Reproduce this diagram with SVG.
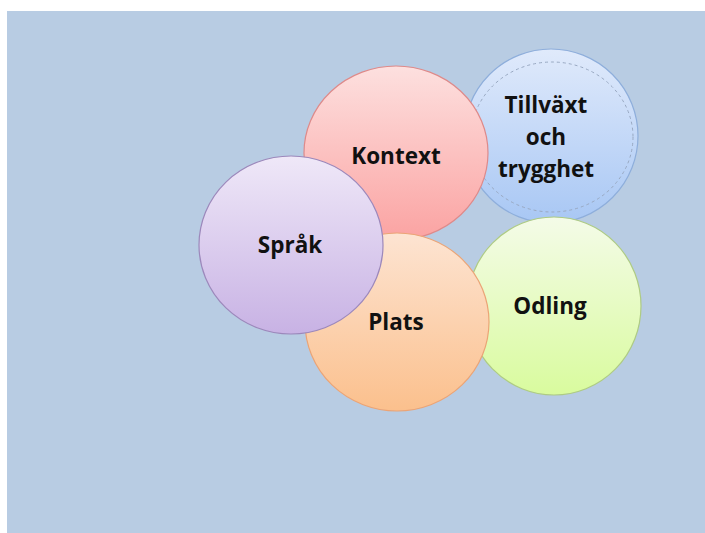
<svg xmlns="http://www.w3.org/2000/svg" width="705" height="533" viewBox="0 0 705 533">
  <style>
    .lbl { font-family: "Open Sans", "Liberation Sans", sans-serif; font-weight: bold; font-size: 22.5px; fill: #111111; text-anchor: middle; }
    .node { stroke-width: 1.2; }
  </style>
  <defs>
    <linearGradient id="gRed" x1="0" y1="0" x2="0" y2="1">
      <stop offset="0" stop-color="#fde0df"/>
      <stop offset="1" stop-color="#fba3a2"/>
    </linearGradient>
    <linearGradient id="gBlue" x1="0" y1="0" x2="0" y2="1">
      <stop offset="0" stop-color="#e0eafb"/>
      <stop offset="1" stop-color="#a8c7f4"/>
    </linearGradient>
    <linearGradient id="gPurple" x1="0" y1="0" x2="0" y2="1">
      <stop offset="0" stop-color="#efe8f8"/>
      <stop offset="1" stop-color="#c8b2e4"/>
    </linearGradient>
    <linearGradient id="gOrange" x1="0" y1="0" x2="0" y2="1">
      <stop offset="0" stop-color="#fde4d2"/>
      <stop offset="1" stop-color="#fbc08d"/>
    </linearGradient>
    <linearGradient id="gGreen" x1="0" y1="0" x2="0" y2="1">
      <stop offset="0" stop-color="#f4fbe8"/>
      <stop offset="1" stop-color="#d9fb9e"/>
    </linearGradient>
  </defs>
  <rect x="0" y="0" width="705" height="533" fill="#ffffff"/>
  <rect x="7" y="11" width="698" height="522" fill="#b8cce3"/>

  <g id="connectors"></g>

  <g id="tillvaxt">
    <ellipse class="node" cx="551" cy="136" rx="87" ry="87" fill="url(#gBlue)" stroke="#8eaedb"/>
    <ellipse cx="552" cy="137" rx="81" ry="75" fill="none" stroke="#99a9c2" stroke-width="1" stroke-dasharray="3,3"/>
    <text class="lbl" x="546" y="113">Tillväxt</text>
    <text class="lbl" x="546" y="145">och</text>
    <text class="lbl" x="546" y="177">trygghet</text>
  </g>

  <g id="odling">
    <ellipse class="node" cx="554" cy="306" rx="87" ry="89" fill="url(#gGreen)" stroke="#aecb84"/>
    <text class="lbl" x="550" y="314">Odling</text>
  </g>

  <g id="kontext">
    <ellipse class="node" cx="396" cy="153" rx="92" ry="87" fill="url(#gRed)" stroke="#de8a8a"/>
    <text class="lbl" x="396" y="164">Kontext</text>
  </g>

  <g id="plats">
    <ellipse class="node" cx="397" cy="322" rx="92" ry="89" fill="url(#gOrange)" stroke="#eba476"/>
    <text class="lbl" x="396" y="330">Plats</text>
  </g>

  <g id="sprak">
    <ellipse class="node" cx="291" cy="245" rx="92" ry="89" fill="url(#gPurple)" stroke="#9c88bb"/>
    <text class="lbl" x="290" y="253">Språk</text>
  </g>
</svg>
